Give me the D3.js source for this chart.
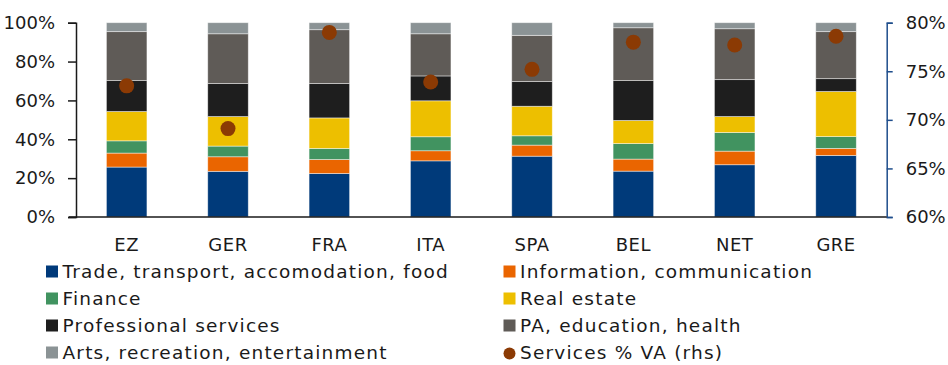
<!DOCTYPE html>
<html>
<head>
<meta charset="utf-8">
<script src="https://cdn.jsdelivr.net/npm/d3@7"></script>
<style>
  html, body { margin: 0; padding: 0; background: #fff; }
  svg { display: block; }
  text { font-family: "Century Gothic", "URW Gothic", "DejaVu Sans", sans-serif; fill: #1a1a1a; }
</style>
</head>
<body>
<svg id="chart" width="948" height="365"></svg>
<script>
// Countries along the x axis
const countries = ["EZ", "GER", "FRA", "ITA", "SPA", "BEL", "NET", "GRE"];

// Share of services value added by sector (% of services, stacks to 100)
const trade    = [25.7, 23.5, 22.4, 28.9, 31.3, 23.6, 26.9, 31.7];
const infoComm = [ 7.2,  7.5,  7.2,  5.2,  5.7,  6.2,  7.0,  3.6];
const finance  = [ 6.3,  5.5,  5.7,  7.2,  4.8,  8.0,  9.6,  6.1];
const realEst  = [15.1, 15.2, 15.7, 18.5, 15.2, 11.9,  8.2, 23.2];
const profServ = [15.9, 17.0, 17.7, 12.8, 12.7, 20.5, 19.0,  6.6];
const paEduHlt = [25.2, 25.6, 27.7, 21.7, 23.8, 27.2, 26.2, 24.2];
const arts     = [ 4.6,  5.7,  3.6,  5.7,  6.5,  2.6,  3.1,  4.6];

// Services as % of total value added (right axis)
const servicesVA = [73.5, 69.1, 79.0, 73.9, 75.2, 78.0, 77.7, 78.6];

// Tick values
const leftTicks = [0, 20, 40, 60, 80, 100];
const rightTicks = [60, 65, 70, 75, 80];

const sectorNames = [
  "Trade, transport, accomodation, food",
  "Information, communication",
  "Finance",
  "Real estate",
  "Professional services",
  "PA, education, health",
  "Arts, recreation, entertainment"
];
const sectorValues = [trade, infoComm, finance, realEst, profServ, paEduHlt, arts];
const sectorColors = ["#003a7a", "#ea6500", "#419360", "#edbf00", "#1e1e1e", "#5f5b57", "#8b9395"];
const dotColor = "#8b3a04";
const dotLabel = "Services % VA (rhs)";

const svg = d3.select("#chart");
const margin = { left: 76, right: 948 - 886.7, top: 22.7, bottom: 365 - 217 };
const plotW = 948 - margin.left - margin.right;
const plotH = 365 - margin.top - margin.bottom;

const g = svg.append("g").attr("transform", `translate(${margin.left},${margin.top})`);

const x = d3.scaleBand().domain(countries).range([0, plotW]).paddingInner(0.6).paddingOuter(0.3);
const yL = d3.scaleLinear().domain([0, 100]).range([plotH, 0]);
const yR = d3.scaleLinear().domain([60, 80]).range([plotH, 0]);

// Build stack table
const rows = countries.map((c, i) => {
  const r = { country: c };
  sectorNames.forEach((s, k) => { r[s] = sectorValues[k][i]; });
  return r;
});
const stack = d3.stack().keys(sectorNames)(rows);

g.selectAll("g.layer")
  .data(stack)
  .join("g")
  .attr("class", "layer")
  .attr("fill", (d, i) => sectorColors[i])
  .selectAll("rect")
  .data(d => d)
  .join("rect")
  .attr("x", d => x(d.data.country))
  .attr("width", x.bandwidth())
  .attr("y", d => yL(d[1]))
  .attr("height", d => yL(d[0]) - yL(d[1]))
  .attr("stroke", "#ffffff")
  .attr("stroke-opacity", 0.55)
  .attr("stroke-width", 0.8);

// Left axis
const axL = g.append("g")
  .call(d3.axisLeft(yL).tickValues(leftTicks).tickFormat(d => d + "%").tickSize(8).tickPadding(13));
axL.select(".domain").attr("stroke", "#1a1a1a").attr("stroke-width", 1.5);
axL.selectAll(".tick line").attr("stroke", "#1a1a1a").attr("stroke-width", 1.5);
axL.selectAll("text").style("font-size", "18px").attr("fill", "#1a1a1a");

// Right axis
const axR = g.append("g")
  .attr("transform", `translate(${plotW},0)`)
  .call(d3.axisRight(yR).tickValues(rightTicks).tickFormat(d => d + "%").tickSize(6).tickPadding(13));
axR.select(".domain").attr("stroke", "#1f4e8c").attr("stroke-width", 1.5);
axR.selectAll(".tick line").attr("stroke", "#1f4e8c").attr("stroke-width", 1.5);
axR.selectAll("text").style("font-size", "18px").attr("fill", "#1a1a1a");

// Category axis (baseline)
const axB = g.append("g")
  .attr("transform", `translate(0,${plotH})`)
  .call(d3.axisBottom(x).tickSize(0).tickPadding(21));
axB.select(".domain").attr("stroke", "#1a1a1a").attr("stroke-width", 1.5).attr("d", `M-7,0H${plotW}`);
axB.selectAll("text").style("font-size", "18px").style("letter-spacing", "0.5px").attr("fill", "#1a1a1a");

// Services share dots
g.selectAll("circle.dot")
  .data(servicesVA)
  .join("circle")
  .attr("class", "dot")
  .attr("cx", (d, i) => x(countries[i]) + x.bandwidth() / 2)
  .attr("cy", d => yR(d))
  .attr("r", 7.5)
  .attr("fill", dotColor);

// Legend: two columns, four rows
const legendItems = sectorNames.map((n, i) => ({ name: n, color: sectorColors[i], type: "rect" }))
  .concat([{ name: dotLabel, color: dotColor, type: "circle" }]);
const colX = [46, 503.5];
const rowY = [271.5, 298.5, 325.5, 352.5];
const leg = svg.append("g");
legendItems.forEach((it, i) => {
  const cx = colX[i % 2];
  const cy = rowY[Math.floor(i / 2)];
  if (it.type === "rect") {
    leg.append("rect").attr("x", cx).attr("y", cy - 6).attr("width", 12).attr("height", 12).attr("fill", it.color);
  } else {
    leg.append("circle").attr("cx", cx + 6).attr("cy", cy + 1).attr("r", 6).attr("fill", it.color);
  }
  leg.append("text")
    .attr("x", cx + 16.5)
    .attr("y", cy)
    .attr("dy", "0.35em")
    .style("font-size", "18.5px")
    .style("letter-spacing", "1.2px")
    .text(it.name);
});
</script>
</body>
</html>
